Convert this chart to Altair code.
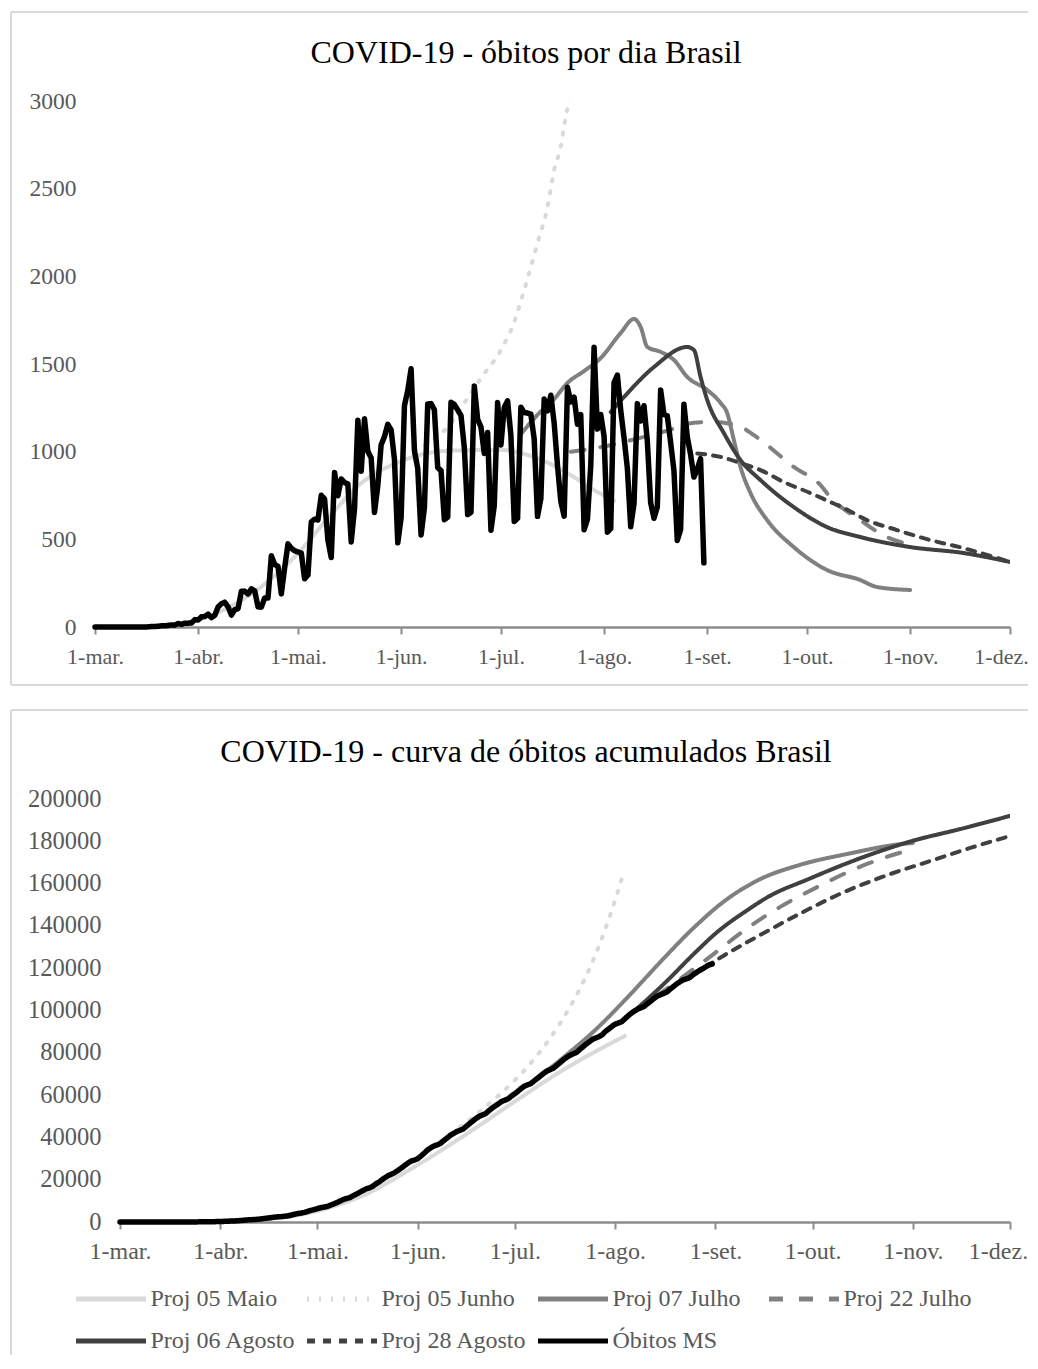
import altair as alt
import pandas as pd

SERIF = "Liberation Serif"
LABEL_GRAY = "#595959"
FRAME_GRAY = "#d9d9d9"
AXIS_GRAY = "#8c8c8c"

SERIES = ["Proj 05 Maio", "Proj 05 Junho", "Proj 07 Julho", "Proj 22 Julho",
          "Proj 06 Agosto", "Proj 28 Agosto", "Óbitos MS"]
COLORS = ["#d9d9d9", "#d9d9d9", "#808080", "#808080", "#404040", "#404040", "#000000"]
DASHES = [[1, 0], [2, 10], [1, 0], [14, 16], [1, 0], [8, 8], [1, 0]]

MONTH_LABELS = ["1-mar.", "1-abr.", "1-mai.", "1-jun.", "1-jul.", "1-ago.",
                "1-set.", "1-out.", "1-nov.", "1-dez."]
MONTH_NUMBERS = [3, 4, 5, 6, 7, 8, 9, 10, 11, 12]
Y_TICKS_TOP = [0, 500, 1000, 1500, 2000, 2500, 3000]
Y_TICKS_BOT = [0, 20000, 40000, 60000, 80000, 100000, 120000, 140000, 160000, 180000, 200000]

TITLE_TOP = "COVID-19 - óbitos por dia Brasil"
TITLE_BOT = "COVID-19 - curva de óbitos acumulados Brasil"

# ---- Óbitos MS (daily, from 2020-03-01) ----
OBITOS_DIARIOS = (
    [0] * 16 +
    [1, 3, 3, 4, 7, 7, 9, 12, 11, 20, 15, 22, 22, 23, 42] +
    [40, 58, 60, 73, 54, 67, 114, 133, 141, 115, 68, 99, 105, 204, 204, 188, 217, 206, 115, 113,
     166, 165, 407, 357, 346, 189, 338, 474, 449, 435] +
    [428, 421, 275, 296, 600, 615, 610, 751, 730, 496, 396, 881, 749, 844, 824, 816, 485, 674,
     1179, 888, 1188, 1001, 965, 653, 807, 1039, 1086, 1156, 1124, 956, 480] +
    [623, 1262, 1349, 1473, 1005, 904, 525, 679, 1272, 1274, 1239, 909, 892, 612, 627, 1282,
     1269, 1238, 1206, 1022, 641, 654, 1374, 1185, 1141, 990, 1109, 552, 692, 1280] +
    [1038, 1252, 1290, 1091, 602, 620, 1254, 1223, 1220, 1214, 1071, 631, 733, 1300, 1233,
     1322, 1163, 921, 716, 632, 1367, 1284, 1311, 1156, 1211, 555, 614, 921, 1595, 1129, 1212] +
    [1088, 541, 561, 1394, 1437, 1237, 1079, 905, 572, 703, 1274, 1175, 1262, 1060, 709, 620,
     684, 1352, 1212, 1204, 1054, 892, 494, 555, 1271, 1085, 984, 855, 900, 960, 366]
)

OBITOS_ACUMULADOS = (
    [0] * 16 +
    [1, 4, 7, 11, 18, 25, 34, 46, 57, 77, 92, 114, 136, 159, 201] +
    [241, 299, 359, 432, 486, 553, 667, 800, 941, 1056, 1124, 1223, 1328, 1532, 1736, 1924,
     2141, 2347, 2462, 2575, 2741, 2906, 3313, 3670, 4016, 4205, 4543, 5017, 5466, 5901] +
    [6329, 6750, 7025, 7321, 7921, 8536, 9146, 9897, 10627, 11123, 11519, 12400, 13149, 13993,
     14817, 15633, 16118, 16792, 17971, 18859, 20047, 21048, 22013, 22666, 23473, 24512, 25598,
     26754, 27878, 28834, 29314] +
    [29937, 31199, 32548, 34021, 35026, 35930, 36455, 37134, 38406, 39680, 40919, 41828, 42720,
     43332, 43959, 45241, 46510, 47748, 48954, 49976, 50617, 51271, 52645, 53830, 54971, 55961,
     57070, 57622, 58314, 59594] +
    [60632, 61884, 63174, 64265, 64867, 65487, 66741, 67964, 69184, 70398, 71469, 72100, 72833,
     74133, 75366, 76688, 77851, 78772, 79488, 80120, 81487, 82771, 84082, 85238, 86449, 87004,
     87618, 88539, 90134, 91263, 92475] +
    [93563, 94104, 94665, 96059, 97496, 98733, 99812, 100717, 101289, 101992, 103266, 104441,
     105703, 106763, 107472, 108092, 108776, 110128, 111340, 112544, 113598, 114490, 114984,
     115539, 116810, 117895, 118879, 119734, 120634, 121594, 121960]
)

# ---- projections, daily ----
MAIO_D_DATES = ["2020-03-16", "2020-03-25", "2020-04-01", "2020-04-10", "2020-04-20", "2020-05-01",
                "2020-05-10", "2020-05-20", "2020-06-01", "2020-06-15", "2020-07-01", "2020-07-10",
                "2020-07-21", "2020-07-29", "2020-08-04"]
MAIO_D = [0, 10, 40, 110, 230, 420, 620, 820, 945, 1005, 1010, 975, 878, 781, 720]

JUNHO_D_DATES = ["2020-06-05", "2020-06-10", "2020-06-15", "2020-06-21", "2020-06-25", "2020-07-01",
                 "2020-07-05", "2020-07-08", "2020-07-12", "2020-07-15", "2020-07-17", "2020-07-19",
                 "2020-07-20", "2020-07-21", "2020-07-22", "2020-07-26", "2020-07-30", "2020-08-03"]
JUNHO_D = [1000, 1060, 1141, 1306, 1420, 1580, 1740, 1922, 2190, 2395, 2607, 2743, 2860, 2960,
           3100, 3800, 4500, 5300]

JUL07_D_DATES = ["2020-07-07", "2020-07-12", "2020-07-17", "2020-07-21", "2020-07-26", "2020-07-31",
                 "2020-08-06", "2020-08-10", "2020-08-12", "2020-08-14", "2020-08-18", "2020-08-22",
                 "2020-08-26", "2020-09-01", "2020-09-05", "2020-09-07", "2020-09-09", "2020-09-11",
                 "2020-09-14", "2020-09-19", "2020-09-27", "2020-10-07", "2020-10-17", "2020-10-22",
                 "2020-11-01"]
JUL07_D = [1100, 1210, 1300, 1392, 1460, 1534, 1677, 1757, 1711, 1597, 1569, 1523, 1426, 1352,
           1278, 1220, 1067, 913, 764, 610, 456, 325, 268, 228, 211]

JUL22_D_DATES = ["2020-07-22", "2020-08-01", "2020-08-10", "2020-08-20", "2020-08-28", "2020-09-03",
                 "2020-09-11", "2020-09-17", "2020-09-27", "2020-10-05", "2020-10-08", "2020-10-17",
                 "2020-10-25", "2020-11-01"]
JUL22_D = [1000, 1030, 1070, 1120, 1165, 1170, 1141, 1067, 913, 810, 740, 610, 513, 470]

AGO06_D_DATES = ["2020-08-03", "2020-08-07", "2020-08-16", "2020-08-26", "2020-08-28", "2020-08-30",
                 "2020-09-01", "2020-09-06", "2020-09-11", "2020-09-17", "2020-09-27", "2020-10-07",
                 "2020-10-17", "2020-11-01", "2020-11-17", "2020-12-01"]
AGO06_D = [1226, 1312, 1483, 1597, 1580, 1426, 1295, 1106, 952, 838, 684, 570, 513, 456, 422, 371]

AGO28_D_DATES = ["2020-08-29", "2020-09-05", "2020-09-11", "2020-09-17", "2020-09-24", "2020-10-02",
                 "2020-10-08", "2020-10-12", "2020-10-19", "2020-10-28", "2020-11-07", "2020-11-17",
                 "2020-12-01"]
AGO28_D = [990, 970, 935, 895, 827, 764, 713, 679, 610, 553, 496, 450, 371]

# ---- projections, cumulative ----
MAIO_C_DATES = ["2020-03-16", "2020-04-01", "2020-04-15", "2020-05-01", "2020-05-15", "2020-06-01",
                "2020-06-15", "2020-07-01", "2020-07-15", "2020-08-04"]
MAIO_C = [0, 250, 1300, 5200, 12500, 27000, 40500, 57000, 71000, 88000]

JUNHO_C_DATES = ["2020-06-05", "2020-06-15", "2020-06-25", "2020-07-01", "2020-07-08", "2020-07-15",
                 "2020-07-21", "2020-07-25", "2020-07-30", "2020-08-03"]
JUNHO_C = [35000, 46000, 58500, 67000, 79000, 94000, 110000, 123000, 143000, 162000]

JUL07_C_DATES = ["2020-07-07", "2020-07-16", "2020-07-26", "2020-08-05", "2020-08-15", "2020-08-25",
                 "2020-09-04", "2020-09-14", "2020-09-27", "2020-10-12", "2020-10-29", "2020-11-01"]
JUL07_C = [66800, 77800, 91000, 106500, 123000, 138700, 152000, 161500, 168800, 174100, 178800, 179200]

JUL22_C_DATES = ["2020-07-22", "2020-08-01", "2020-08-10", "2020-08-20", "2020-08-31", "2020-09-10",
                 "2020-09-21", "2020-10-03", "2020-10-14", "2020-10-27", "2020-11-01"]
JUL22_C = [82800, 93200, 102700, 113700, 126200, 138000, 149000, 158800, 166900, 174100, 176300]

AGO06_C_DATES = ["2020-08-03", "2020-08-06", "2020-08-16", "2020-08-26", "2020-09-01", "2020-09-11",
                 "2020-09-17", "2020-09-30", "2020-10-14", "2020-10-31", "2020-11-17", "2020-12-01"]
AGO06_C = [94700, 98600, 112500, 127800, 136400, 147600, 153500, 162300, 171000, 179800, 186300, 192000]

AGO28_C_DATES = ["2020-08-29", "2020-09-02", "2020-09-14", "2020-09-28", "2020-10-10", "2020-10-25",
                 "2020-11-07", "2020-11-19", "2020-12-01"]
AGO28_C = [120500, 124500, 135000, 146500, 155500, 164500, 171000, 177000, 182500]


def rows(series, dates, values):
    return [{"series": series, "date": d, "value": v} for d, v in zip(dates, values)]


obs_dates = [d.strftime("%Y-%m-%d") for d in pd.date_range("2020-03-01", periods=len(OBITOS_DIARIOS))]

proj_daily = pd.DataFrame(
    rows("Proj 05 Maio", MAIO_D_DATES, MAIO_D) + rows("Proj 05 Junho", JUNHO_D_DATES, JUNHO_D)
    + rows("Proj 07 Julho", JUL07_D_DATES, JUL07_D) + rows("Proj 22 Julho", JUL22_D_DATES, JUL22_D)
    + rows("Proj 06 Agosto", AGO06_D_DATES, AGO06_D) + rows("Proj 28 Agosto", AGO28_D_DATES, AGO28_D)
)
obs_daily = pd.DataFrame(rows("Óbitos MS", obs_dates, OBITOS_DIARIOS))

proj_cum = pd.DataFrame(
    rows("Proj 05 Maio", MAIO_C_DATES, MAIO_C) + rows("Proj 05 Junho", JUNHO_C_DATES, JUNHO_C)
    + rows("Proj 07 Julho", JUL07_C_DATES, JUL07_C) + rows("Proj 22 Julho", JUL22_C_DATES, JUL22_C)
    + rows("Proj 06 Agosto", AGO06_C_DATES, AGO06_C) + rows("Proj 28 Agosto", AGO28_C_DATES, AGO28_C)
)
obs_cum = pd.DataFrame(rows("Óbitos MS", obs_dates, OBITOS_ACUMULADOS))

MONTH_DT = [alt.DateTime(year=2020, month=m, date=1, utc=True) for m in MONTH_NUMBERS]
LABEL_EXPR = "[" + ",".join("'" + s + "'" for s in MONTH_LABELS) + "][utcmonth(datum.value) - 2]"
X_DOMAIN = [MONTH_DT[0], MONTH_DT[-1]]

PLOT_W = 915


def x_enc(font_size, x_start, pad, last_shift):
    return alt.X(
        "date:T",
        scale=alt.Scale(type="utc", domain=X_DOMAIN, range=[x_start, PLOT_W]),
        axis=alt.Axis(values=MONTH_DT, labelExpr=LABEL_EXPR, title=None, grid=False,
                      domainColor=AXIS_GRAY, domainWidth=2.5, tickColor=AXIS_GRAY, tickWidth=2,
                      tickSize=7, labelFont=SERIF, labelFontSize=font_size, labelColor=LABEL_GRAY,
                      labelPadding=pad, labelFlush=False, labelOverlap=False,
                      labelOffset={"condition": {"test": "utcmonth(datum.value) == 11",
                                                 "value": last_shift}, "value": 0}),
    )


def y_enc(ticks, font_size, x_start):
    return alt.Y(
        "value:Q",
        scale=alt.Scale(domain=[ticks[0], ticks[-1]], nice=False),
        axis=alt.Axis(values=ticks, format="d", title=None, grid=False, domain=False,
                      ticks=False, tickSize=0, labelPadding=19, offset=-x_start, labelFont=SERIF,
                      labelFontSize=font_size, labelColor=LABEL_GRAY),
    )


def style_enc(legend):
    if legend is None:
        return (alt.Color("series:N", scale=alt.Scale(domain=SERIES, range=COLORS), legend=None),
                alt.StrokeDash("series:N", scale=alt.Scale(domain=SERIES, range=DASHES), legend=None))
    return (alt.Color("series:N", scale=alt.Scale(domain=SERIES, range=COLORS), legend=legend),
            alt.StrokeDash("series:N", scale=alt.Scale(domain=SERIES, range=DASHES), legend=legend))


ONE = pd.DataFrame({"k": [0]})


def frame(x0, x1, y0, y1, with_bottom):
    base = alt.Chart(ONE).mark_rule(color=FRAME_GRAY, strokeWidth=2)
    parts = [
        base.encode(x=alt.value(x0), x2=alt.value(x1), y=alt.value(y0)),
        base.encode(x=alt.value(x0), y=alt.value(y0), y2=alt.value(y1)),
    ]
    if with_bottom:
        parts.append(base.encode(x=alt.value(x0), x2=alt.value(x1), y=alt.value(y1)))
    return parts


def title_mark(text, cx, base_y):
    return alt.Chart(ONE).mark_text(
        font=SERIF, fontSize=32, color="#000000", align="center", baseline="alphabetic"
    ).encode(x=alt.value(cx), y=alt.value(base_y), text=alt.value(text))


def panel(proj_df, obs_df, ticks, xfs, yfs, xpad, x_start, last_shift, title, title_y, legend, h, fr):
    color, dash = style_enc(legend)
    xe = x_enc(xfs, x_start, xpad, last_shift)
    ye = y_enc(ticks, yfs, x_start)
    proj = alt.Chart(proj_df).mark_line(
        strokeWidth=4, strokeCap="round", strokeJoin="round", clip=True, interpolate="monotone"
    ).encode(x=xe, y=ye, color=color, strokeDash=dash, detail="series:N")
    obs = alt.Chart(obs_df).mark_line(
        strokeWidth=5.5, strokeCap="round", strokeJoin="round"
    ).encode(x=xe, y=ye, color=color, strokeDash=dash)
    layers = frame(*fr) + [title_mark(title, 431, title_y), proj, obs]
    return alt.layer(*layers).properties(width=PLOT_W, height=h)


legend = alt.Legend(
    orient="none", legendX=13.5, legendY=480, columns=4, direction="horizontal", title=None,
    symbolType="M-3,0H1", symbolSize=1225, symbolStrokeWidth=5, labelFont=SERIF, labelFontSize=24,
    labelColor=LABEL_GRAY, columnPadding=0, rowPadding=10, labelOffset=2, padding=0,
    gridAlign="all",
)

top = panel(proj_daily, obs_daily, Y_TICKS_TOP, 22, 23.5, 12, 0, -9, TITLE_TOP, -38, None, 526,
            (-84, 933, -89, 584, True))
bottom = panel(proj_cum, obs_cum, Y_TICKS_BOT, 24, 24.5, 10, 25, -12, TITLE_BOT, -37, legend, 423,
               (-84, 933, -89, 556, False))

chart = alt.vconcat(top, bottom, spacing=23).resolve_scale(
    color="independent", strokeDash="independent"
).properties(
    padding={"left": 2, "top": 3, "right": 0, "bottom": 0}
).configure_view(stroke=None)

chart.save("out.html", embed_options={"renderer": "svg", "actions": False})
